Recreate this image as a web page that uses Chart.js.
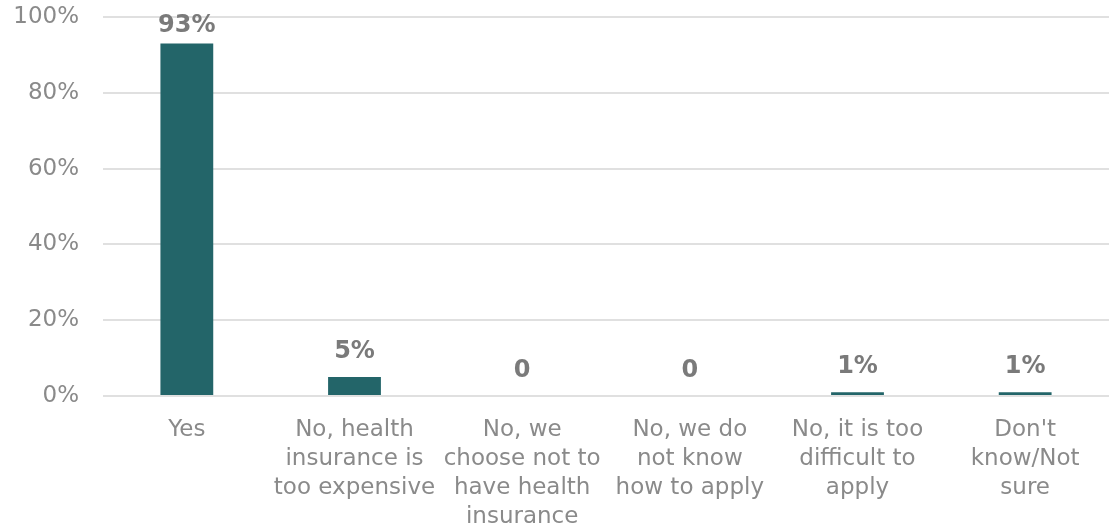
<!DOCTYPE html>
<html>
<head>
<meta charset="utf-8">
<script src="https://cdn.jsdelivr.net/npm/chart.js@4"></script>
<style>
html,body{margin:0;padding:0;background:#fff;}
#wrap{width:1109px;height:531px;position:relative;}
</style>
</head>
<body>
<div id="wrap"><canvas id="c" width="1109" height="531"></canvas></div>
<script>
const categories = [
  ["Yes"],
  ["No, health", "insurance is", "too expensive"],
  ["No, we", "choose not to", "have health", "insurance"],
  ["No, we do", "not know", "how to apply"],
  ["No, it is too", "difficult to", "apply"],
  ["Don't", "know/Not", "sure"]
];
const values = [93, 5, 0, 0, 1, 1];
const valueLabels = ["93%", "5%", "0", "0", "1%", "1%"];
const yTicks = [0, 20, 40, 60, 80, 100];

const FONT = "'DejaVu Sans', Verdana, sans-serif";

const labelPlugin = {
  id: 'valueLabels',
  afterDatasetsDraw(chart) {
    const ctx = chart.ctx;
    const meta = chart.getDatasetMeta(0);
    ctx.save();
    ctx.font = "bold 24px " + FONT;
    ctx.fillStyle = "#7a7a7a";
    ctx.textAlign = "center";
    ctx.textBaseline = "middle";
    meta.data.forEach((bar, i) => {
      const y = Math.max(bar.y - 25, 26);
      ctx.fillText(valueLabels[i], bar.x, y);
    });
    ctx.restore();
  }
};

new Chart(document.getElementById('c'), {
  type: 'bar',
  data: {
    labels: categories,
    datasets: [{
      data: values,
      backgroundColor: '#236569',
      borderWidth: 0,
      barPercentage: 0.63,
      categoryPercentage: 0.5
    }]
  },
  options: {
    responsive: false,
    animation: false,
    layout: { padding: { top: 17, right: 0, left: 0, bottom: 0 } },
    plugins: { legend: { display: false }, tooltip: { enabled: false } },
    scales: {
      x: {
        grid: { display: false, drawTicks: false },
        border: { display: false },
        ticks: {
          color: '#8a8a8a',
          font: { family: FONT, size: 23, lineHeight: 1.27 },
          padding: 19,
          maxRotation: 0,
          autoSkip: false
        },
        afterFit(scale) { scale.height = 135; scale.paddingLeft = 0; scale.paddingRight = 0; }
      },
      y: {
        min: 0, max: 100,
        afterBuildTicks(scale) { scale.ticks = yTicks.map(v => ({ value: v })); },
        grid: { color: '#e0e0e0', lineWidth: 2, drawTicks: false },
        border: { display: false },
        ticks: {
          color: '#8a8a8a',
          font: { family: FONT, size: 23 },
          padding: 24,
          callback: v => v + '%'
        },
        afterFit(scale) { scale.width = 103; scale.paddingTop = 0; scale.paddingBottom = 0; }
      }
    }
  },
  plugins: [labelPlugin]
});
</script>
</body>
</html>
